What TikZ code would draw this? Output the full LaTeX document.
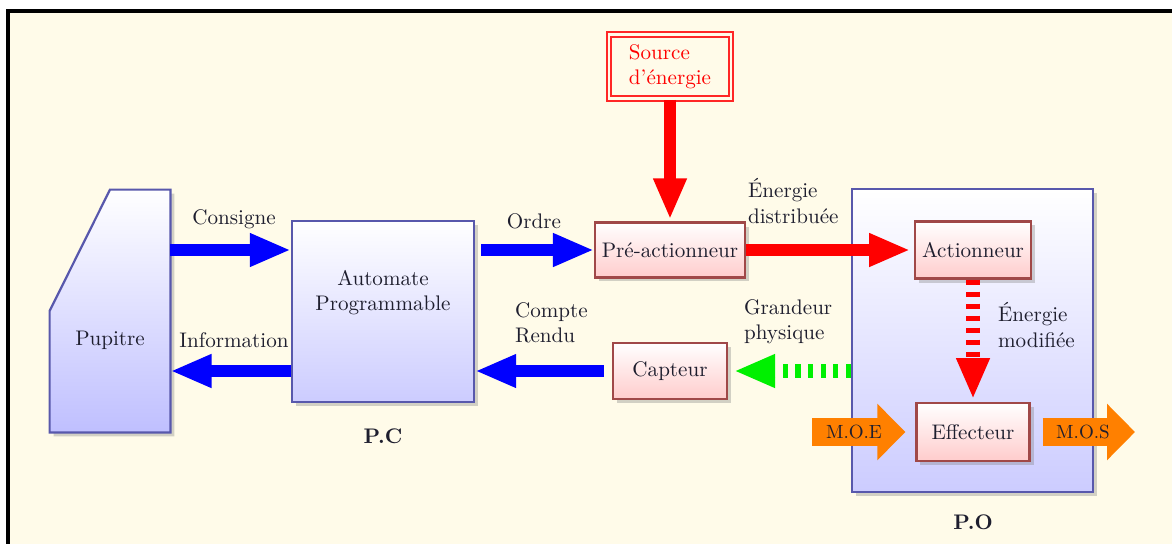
\documentclass[tikz,border=0pt]{standalone}
\usepackage{amsmath}
\usetikzlibrary{arrows.meta,shadows,positioning}
\definecolor{fond}{RGB}{255,251,233}
\definecolor{bordPC}{RGB}{88,88,172}
\definecolor{bordPO}{RGB}{160,72,72}
\definecolor{texte}{RGB}{30,30,46}
\definecolor{orangeMO}{RGB}{255,128,0}

\begin{document}
\begin{tikzpicture}[x=0.0175cm,y=-0.0175cm,
  font=\fontsize{10.5}{12.5}\selectfont, text=texte,
  ombre/.style={drop shadow={shadow xshift=0.7mm,shadow yshift=-0.7mm,opacity=.35}},
  BoitePC/.style={draw=bordPC,line width=1.1pt,top color=white,bottom color=blue!20,ombre},
  BoitePO/.style={draw=bordPO,line width=1.1pt,top color=white,bottom color=red!20,ombre},
  Fleche/.style={line width=0.21cm,-{Triangle[length=0.72cm,width=0.54cm]}},
  FlecheOrange/.style={orangeMO,line width=0.5cm,-{Triangle[length=0.49cm,width=0.96cm]}},
  Etiquette/.style={align=left,anchor=west}]
\useasboundingbox (0,0) rectangle (1172,543);
\draw[line width=1.8pt,fill=fond] (8,11) rectangle (1200,570);
% partie commande
\node[minimum width=2.1cm,minimum height=4.235cm] (pupitre) at (110,311) {};
\shadedraw[draw=bordPC,line width=1.1pt,top color=white,bottom color=blue!25,ombre]
  (pupitre.north) -- (pupitre.north east) -- (pupitre.south east)
  -- (pupitre.south west) -- (pupitre.west) -- cycle;
\node (pupitreTxt) at (110,340) {Pupitre};
\node[BoitePC,minimum width=3.185cm,minimum height=3.17cm] (automate) at (383,311.5) {};
\node[align=center] (automateTxt) at (383,292.5) {Automate\\Programmable};
\node[font=\fontsize{10.5}{12.5}\selectfont\bfseries] (pc) at (383,436) {P.C};
% partie operative
\node[BoitePC,minimum width=4.22cm,minimum height=5.3cm] (po) at (972.5,340.5) {};
\node[font=\fontsize{10.5}{12.5}\selectfont\bfseries] (poTxt) at (973,522) {P.O};
\node[BoitePO,minimum width=1.98cm,minimum height=1cm] (act) at (973,250) {Actionneur};
\node[BoitePO,minimum width=1.98cm,minimum height=1.01cm] (eff) at (973,432) {Effecteur};
\node[BoitePO,minimum width=2.54cm,minimum height=0.96cm] (preact) at (670,250) {Pré-actionneur};
\node[BoitePO,minimum width=2cm,minimum height=0.98cm] (capteur) at (670,371) {Capteur};
\node[draw=red!85,double=fond,double distance=1.3pt,line width=1pt,fill=fond,
  text=red,align=left,minimum width=2.14cm,minimum height=1.13cm] (source) at (670,66.5) {Source\\d'énergie};
% liaisons
\draw[Fleche,blue] (pupitre.east |- preact) -- (automate.west |- preact);
\draw[Fleche,blue] (automate.west |- capteur) -- (pupitre.east |- capteur);
\draw[Fleche,blue,shorten <=0.105cm] (automate.east |- preact) -- (preact.west);
\draw[Fleche,blue,shorten <=0.14cm] (capteur.west) -- (automate.east |- capteur);
\draw[Fleche,red,shorten >=0.035cm] (source.south) -- (preact.north);
\draw[Fleche,red,shorten >=0.07cm] (preact.east) -- (act.west);
\draw[Fleche,red,line width=0.23cm,dash pattern=on 0.09cm off 0.12cm,shorten >=0.05cm] (act.south) -- (eff.north);
\draw[Fleche,green!90!black!60!green,line width=0.23cm,dash pattern=on 0.09cm off 0.13cm,shorten >=0.1cm] (po.west |- capteur) -- (capteur.east);
\coordinate (moeDebut) at (812,432);
\coordinate (mosFin) at (1135,432);
\draw[FlecheOrange,shorten >=0.175cm] (moeDebut) -- (eff.west);
\draw[FlecheOrange,shorten <=0.21cm] (eff.east) -- (mosFin);
% etiquettes
\node (consigne) at (234,219) {Consigne};
\node (information) at (234,340) {Information};
\node (ordre) at (534,221) {Ordre};
\node[Etiquette] (compte) at (508,323) {Compte\\Rendu};
\node[Etiquette] (distrib) at (741,201) {Énergie\\distribuée};
\node[Etiquette] (grandeur) at (737,322) {Grandeur\\physique};
\node[Etiquette] (modif) at (991,325) {Énergie\\modifiée};
\node[font=\fontsize{9.5}{11}\selectfont] (moe) at (854,432) {M.O.E};
\node[font=\fontsize{9.5}{11}\selectfont] (mos) at (1083,432) {M.O.S};
\end{tikzpicture}
\end{document}
